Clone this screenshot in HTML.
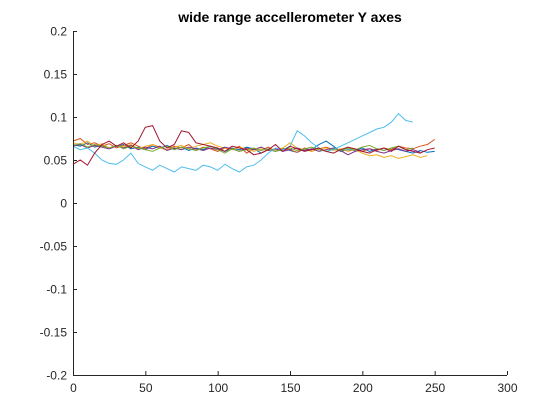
<!DOCTYPE html>
<html><head><meta charset="utf-8"><style>
body{margin:0;background:#fff;}
svg{display:block;font-family:"Liberation Sans",sans-serif;}
</style></head><body>
<svg id="chart" width="560" height="420">
<rect width="560" height="420" fill="#fff"/>
<text x="290" y="22" text-anchor="middle" font-size="14" font-weight="bold" fill="#000">wide range accellerometer Y axes</text>
<g id="plot"></g>
<g id="axes"></g>
</svg>
<script>
const xTicks=[0,50,100,150,200,250,300];
const yTicks=[-0.2,-0.15,-0.1,-0.05,0,0.05,0.1,0.15,0.2];
const yTickLabels=["-0.2","-0.15","-0.1","-0.05","0","0.05","0.1","0.15","0.2"];
const colors=["#0072BD","#D95319","#EDB120","#7E2F8E","#77AC30","#4DBEEE","#A2142F"];
const step=5;
const s0=[0.068,0.066,0.07,0.065,0.067,0.064,0.066,0.068,0.063,0.065,0.062,0.066,0.064,0.067,0.063,0.065,0.061,0.064,0.062,0.066,0.063,0.06,0.064,0.062,0.065,0.063,0.058,0.062,0.06,0.064,0.061,0.059,0.063,0.062,0.068,0.072,0.066,0.06,0.062,0.061,0.064,0.06,0.063,0.061,0.064,0.062,0.06,0.058,0.061,0.059,0.06];
const s1=[0.072,0.075,0.068,0.07,0.066,0.069,0.064,0.067,0.07,0.066,0.063,0.068,0.065,0.062,0.066,0.064,0.068,0.061,0.065,0.063,0.06,0.064,0.062,0.066,0.058,0.063,0.061,0.065,0.06,0.063,0.062,0.059,0.064,0.06,0.063,0.065,0.062,0.061,0.064,0.062,0.06,0.063,0.061,0.064,0.062,0.066,0.064,0.063,0.066,0.068,0.074];
const s2=[0.07,0.068,0.072,0.066,0.069,0.064,0.067,0.065,0.068,0.063,0.066,0.068,0.064,0.062,0.065,0.067,0.063,0.066,0.068,0.07,0.066,0.064,0.062,0.065,0.063,0.06,0.063,0.061,0.062,0.064,0.07,0.064,0.062,0.06,0.063,0.064,0.061,0.063,0.06,0.062,0.058,0.055,0.056,0.053,0.055,0.052,0.054,0.056,0.053,0.055];
const s3=[0.066,0.068,0.064,0.067,0.065,0.063,0.066,0.064,0.067,0.062,0.065,0.063,0.066,0.061,0.064,0.062,0.065,0.063,0.061,0.064,0.062,0.065,0.063,0.06,0.064,0.062,0.065,0.061,0.063,0.06,0.062,0.064,0.061,0.063,0.06,0.062,0.064,0.061,0.056,0.06,0.062,0.063,0.06,0.058,0.061,0.063,0.06,0.062,0.059];
const s4=[0.067,0.069,0.065,0.068,0.066,0.064,0.067,0.063,0.066,0.064,0.062,0.06,0.064,0.066,0.062,0.065,0.063,0.061,0.064,0.066,0.062,0.058,0.063,0.06,0.062,0.064,0.061,0.063,0.06,0.062,0.064,0.061,0.063,0.065,0.062,0.06,0.063,0.061,0.064,0.062,0.065,0.067,0.063,0.061,0.064,0.066,0.062,0.064];
const s5=[0.066,0.062,0.064,0.058,0.05,0.046,0.045,0.05,0.058,0.046,0.042,0.038,0.044,0.04,0.036,0.042,0.04,0.038,0.044,0.042,0.038,0.045,0.04,0.036,0.042,0.044,0.05,0.058,0.064,0.062,0.066,0.084,0.078,0.07,0.064,0.06,0.062,0.066,0.07,0.074,0.078,0.082,0.086,0.088,0.094,0.104,0.096,0.094];
const s6=[0.045,0.05,0.044,0.058,0.068,0.072,0.066,0.07,0.064,0.072,0.088,0.09,0.072,0.064,0.068,0.084,0.082,0.07,0.068,0.066,0.064,0.06,0.066,0.064,0.062,0.056,0.058,0.062,0.068,0.06,0.066,0.063,0.06,0.062,0.064,0.06,0.058,0.062,0.065,0.063,0.06,0.058,0.062,0.064,0.06,0.066,0.062,0.06,0.058,0.062,0.064];
const series=[s0,s1,s2,s3,s4,s5,s6];
const X0=73,X1=507,Y0=375,Y1=31;
const xs=v=>X0+(v-0)/(300-0)*(X1-X0);
const ys=v=>Y0-(v+0.2)/0.4*(Y0-Y1);
const NS="http://www.w3.org/2000/svg";
const plot=document.getElementById('plot'),axes=document.getElementById('axes');
series.forEach((s,i)=>{
  const p=document.createElementNS(NS,'polyline');
  p.setAttribute('points',s.map((v,j)=>xs(j*step).toFixed(1)+','+ys(v).toFixed(1)).join(' '));
  p.setAttribute('fill','none');p.setAttribute('stroke',colors[i]);p.setAttribute('stroke-width','1');
  
  
  plot.appendChild(p);
});
function line(x1,y1,x2,y2,name){const l=document.createElementNS(NS,'line');
 l.setAttribute('x1',x1);l.setAttribute('y1',y1);l.setAttribute('x2',x2);l.setAttribute('y2',y2);
 l.setAttribute('stroke','#262626');l.setAttribute('stroke-width','1');
 
 
 axes.appendChild(l);}
line(X0,Y0+0.5,X1,Y0+0.5,'x-axis');
line(X0+0.5,Y0,X0+0.5,Y1,'y-axis');
xTicks.forEach(v=>{const x=xs(v)+0.5;line(x,Y0,x,Y0-4,'x-tick');
 const t=document.createElementNS(NS,'text');t.setAttribute('x',x);t.setAttribute('y',Y0+17);
 t.setAttribute('text-anchor','middle');t.setAttribute('font-size','12');t.setAttribute('fill','#262626');
 t.textContent=v;
 
 
 axes.appendChild(t);});
yTicks.forEach((v,i)=>{const y=ys(v)+0.5;line(X0,y,X0+4,y,'y-tick');
 const t=document.createElementNS(NS,'text');t.setAttribute('x',X0-6);t.setAttribute('y',y+4);
 t.setAttribute('text-anchor','end');t.setAttribute('font-size','12');t.setAttribute('fill','#262626');
 t.textContent=yTickLabels[i];
 
 
 axes.appendChild(t);});
</script>
</body></html>
